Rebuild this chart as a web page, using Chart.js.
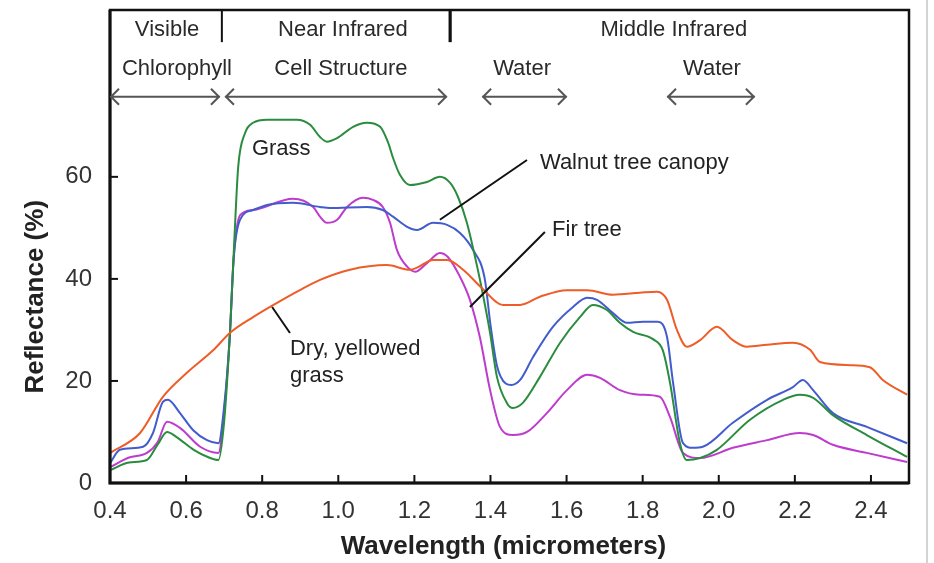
<!DOCTYPE html>
<html>
<head>
<meta charset="utf-8">
<script src="https://cdn.jsdelivr.net/npm/chart.js@4.4.1/dist/chart.umd.min.js"></script>
<style>
html,body{margin:0;padding:0;background:#fff;}
#c{display:block;}
</style>
</head>
<body>
<canvas id="c" width="934" height="563"></canvas>
<script>
// ---------- DATA ----------
const xTicks = [0.4,0.6,0.8,1.0,1.2,1.4,1.6,1.8,2.0,2.2,2.4];
const yTicks = [0,20,40,60];

const grassX = [0.40,0.45,0.497,0.525,0.55,0.575,0.62,0.66,0.685,0.70,0.715,0.727,0.737,0.755,0.776,0.813,0.891,0.926,0.952,0.970,0.997,1.039,1.075,1.110,1.131,1.144,1.162,1.188,1.233,1.267,1.294,1.315,1.338,1.365,1.380,1.399,1.417,1.443,1.459,1.485,1.530,1.583,1.635,1.669,1.706,1.740,1.775,1.827,1.853,1.872,1.898,1.916,1.951,1.995,2.082,2.169,2.213,2.248,2.300,2.389,2.495];
const grassY = [2.5,4.0,4.5,7.5,10,9,6.5,5,4.5,12,29,48,62,68.6,70.6,71.2,71.2,70.2,67.8,66.9,67.6,69.8,70.6,69.8,66.7,63.7,60.4,58.4,59,60,58.8,56,51,42.4,37,29.4,20.8,15.7,14.7,15.7,20.8,27.5,32.5,34.9,33.9,31.4,29.6,28.2,26,19.6,7.8,4.5,4.9,6.5,12.4,16.3,17.3,16.7,13.3,9.4,5.1];

const walnutX = [0.40,0.426,0.487,0.513,0.539,0.552,0.584,0.618,0.655,0.685,0.70,0.715,0.725,0.742,0.776,0.813,0.881,0.952,0.978,1.075,1.117,1.144,1.181,1.207,1.249,1.286,1.320,1.354,1.385,1.40,1.417,1.440,1.455,1.478,1.512,1.564,1.617,1.654,1.680,1.722,1.759,1.801,1.840,1.864,1.880,1.906,1.932,1.958,2.037,2.127,2.195,2.221,2.248,2.300,2.389,2.495];
const walnutY = [3.9,6.5,7.1,9.8,15.9,16.3,13.7,10.4,8.4,7.8,15,29,44,51.6,53.5,54.5,54.9,54.1,53.9,54.1,53.5,52.2,50.2,49.6,51,50.6,49,45.7,40,31,23,19.5,19.2,20.2,24.7,30.6,34.5,36.3,35.9,33.3,31.4,31.6,31.6,28.6,19.6,7.8,6.9,7.1,11.8,16.3,18.8,20.2,18.2,13.7,11,7.8];

const firX = [0.40,0.45,0.497,0.525,0.55,0.584,0.637,0.685,0.70,0.715,0.725,0.742,0.776,0.881,0.934,0.952,0.970,0.997,1.023,1.065,1.091,1.117,1.136,1.154,1.181,1.202,1.233,1.267,1.288,1.320,1.346,1.372,1.399,1.425,1.459,1.496,1.548,1.601,1.654,1.688,1.740,1.793,1.845,1.872,1.906,1.951,2.037,2.127,2.213,2.248,2.300,2.389,2.495];
const firY = [3.1,5,5.9,8,12,10.8,7.1,5.9,14,29,44,52.5,53.5,55.7,54.1,52.2,51,51.6,54.1,55.9,55.5,54.1,51,45.7,42.4,41.4,43.1,45.1,44.3,40.4,35.9,28.6,18.2,11,9.4,10,13.7,18.2,21.2,20.6,18.2,17.3,16.9,12.9,5.9,4.9,6.9,8.4,9.8,9.4,7.5,5.9,4.1];

const dryX = [0.40,0.479,0.539,0.602,0.671,0.715,0.776,0.839,0.899,0.952,1.031,1.128,1.188,1.207,1.249,1.286,1.328,1.38,1.433,1.478,1.530,1.601,1.654,1.722,1.793,1.838,1.864,1.890,1.916,1.951,1.995,2.037,2.074,2.127,2.195,2.240,2.266,2.345,2.397,2.431,2.495];
const dryY = [5.9,9.8,16.9,21.6,26,29.4,32.5,35.3,37.8,39.8,41.8,42.7,41.8,42.2,43.7,43.7,41.8,38,34.9,34.9,36.5,37.8,37.8,36.9,37.3,37.5,35.9,30,26.7,28,30.6,28,26.7,27.1,27.5,26.1,23.7,23.1,22.7,20.2,17.3];

// header bands
const bandLabels = ["Visible","Near Infrared","Middle Infrared"];
const bandCentres = [0.55,1.012,1.882];
const bandDividers = [0.694,1.294];
const featureLabels = ["Chlorophyll","Cell Structure","Water","Water"];
const featureCentres = [0.576,1.007,1.483,1.982];
const featureFrom = [0.40,0.702,1.378,1.864];
const featureTo = [0.689,1.286,1.601,2.095];

const FONT = '"Liberation Sans", Arial, Helvetica, sans-serif';

function pts(xs, ys){ return xs.map((x,i)=>({x:x, y:ys[i]})); }

const annot = {
  id:'annot',
  afterDraw(chart){
    const ctx = chart.ctx, xs = chart.scales.x, ys = chart.scales.y, a = chart.chartArea;
    const X = v => xs.getPixelForValue(v), Y = v => ys.getPixelForValue(v);
    ctx.save();
    // frame
    ctx.strokeStyle = '#111';
    ctx.lineWidth = 2.5;
    ctx.strokeRect(a.left, a.top, a.right - a.left, a.bottom - a.top);
    ctx.lineWidth = 3;
    ctx.beginPath();
    ctx.moveTo(a.left, a.top); ctx.lineTo(a.left, a.bottom); ctx.lineTo(a.right, a.bottom);
    ctx.stroke();
    // inside ticks
    ctx.lineWidth = 2;
    xTicks.forEach(v => { if (v > xs.min) { ctx.beginPath(); ctx.moveTo(X(v), a.bottom); ctx.lineTo(X(v), a.bottom - 8); ctx.stroke(); } });
    yTicks.forEach(v => { if (v > ys.min) { ctx.beginPath(); ctx.moveTo(a.left, Y(v)); ctx.lineTo(a.left + 8, Y(v)); ctx.stroke(); } });
    // band dividers
    ctx.lineWidth = 2;
    ctx.beginPath(); ctx.moveTo(X(bandDividers[0]), a.top); ctx.lineTo(X(bandDividers[0]), Y(86.4)); ctx.stroke();
    ctx.lineWidth = 3.2;
    ctx.beginPath(); ctx.moveTo(X(bandDividers[1]), a.top); ctx.lineTo(X(bandDividers[1]), Y(86.4)); ctx.stroke();
    // texts
    ctx.fillStyle = '#2a2a2a';
    ctx.font = '22px ' + FONT;
    ctx.textAlign = 'center'; ctx.textBaseline = 'middle';
    bandLabels.forEach((t,i) => ctx.fillText(t, X(bandCentres[i]), Y(88.8)));
    featureLabels.forEach((t,i) => ctx.fillText(t, X(featureCentres[i]), Y(81.2)));
    // arrows
    ctx.strokeStyle = '#555'; ctx.lineWidth = 2;
    featureFrom.forEach((f,i) => {
      const x1 = X(f), x2 = X(featureTo[i]), y = Y(75.7);
      ctx.beginPath();
      ctx.moveTo(x1, y); ctx.lineTo(x2, y);
      ctx.moveTo(x1 + 9, y - 8); ctx.lineTo(x1 + 1, y); ctx.lineTo(x1 + 9, y + 8);
      ctx.moveTo(x2 - 9, y - 8); ctx.lineTo(x2 - 1, y); ctx.lineTo(x2 - 9, y + 8);
      ctx.stroke();
    });
    // series labels
    ctx.fillStyle = '#222';
    ctx.textAlign = 'left';
    ctx.fillText('Grass', X(0.773), Y(65.5));
    ctx.fillText('Walnut tree canopy', X(1.530), Y(62.7));
    ctx.fillText('Fir tree', X(1.562), Y(49.6));
    ctx.fillText('Dry, yellowed', X(0.873), Y(26.3));
    ctx.fillText('grass', X(0.873), Y(21.0));
    // leader lines
    ctx.strokeStyle = '#111'; ctx.lineWidth = 2;
    const lead = (x1,y1,x2,y2) => { ctx.beginPath(); ctx.moveTo(X(x1),Y(y1)); ctx.lineTo(X(x2),Y(y2)); ctx.stroke(); };
    lead(1.267,51.6,1.496,63.3);
    lead(1.346,34.5,1.543,49.2);
    lead(0.826,34.5,0.873,29.4);
    // axis titles
    ctx.fillStyle = '#222';
    ctx.font = 'bold 26px ' + FONT;
    ctx.textAlign = 'center'; ctx.textBaseline = 'middle';
    ctx.fillText('Wavelength (micrometers)', (a.left + a.right) / 2 - 6, a.bottom + 64);
    ctx.save();
    ctx.translate(36, Y(36.5));
    ctx.rotate(-Math.PI / 2);
    ctx.fillText('Reflectance (%)', 0, 0);
    ctx.restore();
    // right image edge line
    ctx.strokeStyle = '#d4d4d4'; ctx.lineWidth = 2;
    ctx.beginPath(); ctx.moveTo(927, 0); ctx.lineTo(927, chart.height); ctx.stroke();
    ctx.restore();
  }
};

const ds = (label, xs, ys, color) => ({
  label, data: pts(xs, ys), borderColor: color, backgroundColor: color,
  borderWidth: 2, pointRadius: 0, cubicInterpolationMode: 'monotone', fill: false
});

new Chart(document.getElementById('c'), {
  type: 'line',
  data: {
    datasets: [
      ds('Dry, yellowed grass', dryX, dryY, 'rgb(238,92,40)'),
      ds('Grass', grassX, grassY, 'rgb(42,140,62)'),
      ds('Walnut tree canopy', walnutX, walnutY, 'rgb(66,92,205)'),
      ds('Fir tree', firX, firY, 'rgb(190,60,205)')
    ]
  },
  options: {
    responsive: false,
    animation: false,
    devicePixelRatio: 1,
    layout: { padding: { top: 10, right: 25, left: 0, bottom: 0 } },
    plugins: { legend: { display: false }, tooltip: { enabled: false } },
    scales: {
      x: {
        type: 'linear', min: 0.4, max: 2.5,
        afterBuildTicks: s => { s.ticks = xTicks.map(v => ({ value: v })); },
        afterFit: s => { s.height = 80; s.paddingLeft = 0; s.paddingRight = 0; },
        grid: { display: false, drawTicks: false },
        border: { display: false },
        ticks: { font: { family: FONT, size: 24 }, color: '#333', padding: 14, maxRotation: 0, autoSkip: false,
                 callback: v => Number(v).toFixed(1) }
      },
      y: {
        type: 'linear', min: 0, max: 92.7,
        afterBuildTicks: s => { s.ticks = yTicks.map(v => ({ value: v })); },
        afterFit: s => { s.width = 110; s.paddingTop = 0; s.paddingBottom = 0; },
        grid: { display: false, drawTicks: false },
        border: { display: false },
        ticks: { font: { family: FONT, size: 24 }, color: '#333', padding: 18, callback: v => String(v) }
      }
    }
  },
  plugins: [annot]
});
</script>
</body>
</html>
